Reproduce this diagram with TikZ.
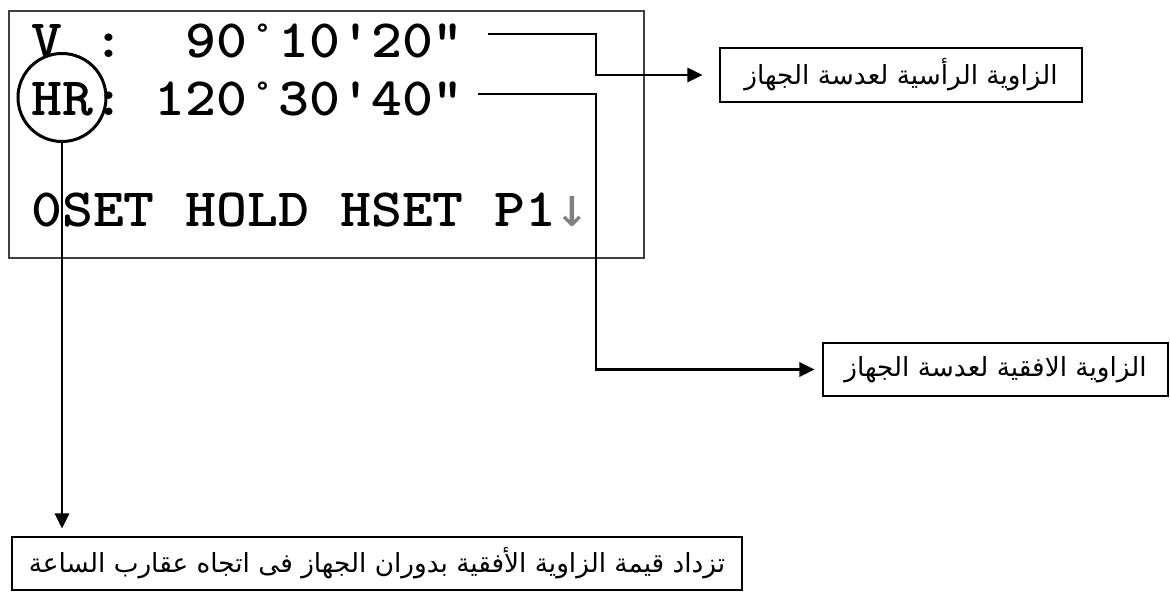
\documentclass[tikz,border=0pt]{standalone}
\usepackage{fontspec}
\newfontfamily\arabicfont[Script=Arabic]{DejaVu Sans}
\newfontfamily\arrowfont{DejaVu Sans Mono}
\newfontfamily\lcdfont{lmmonolt10-bold.otf}[FakeStretch=1.09]
\TeXXeTstate=1
\usetikzlibrary{arrows.meta}
\begin{document}
\begin{tikzpicture}[x=1pt,y=-1pt,
  disp/.style={draw=black!75, line width=2pt, inner sep=0pt, anchor=north west},
  lcd/.style={font=\lcdfont\fontsize{54}{54}\selectfont, inner sep=0pt, anchor=base west},
  ring/.style={draw, circle, line width=3pt, minimum size=88pt, inner sep=0pt},
  conn/.style={line width=2.8pt, -{Triangle[length=15pt,width=14pt]}},
  label/.style={draw, line width=1.1pt, inner sep=0pt, font=\fontsize{26.3}{30}\selectfont\arabicfont}
]
\useasboundingbox (0,0) rectangle (1170,592);
\node[disp, minimum width=635pt, minimum height=247pt] (display) at (8,10) {};
\node[lcd] (l1) at (31,57) {V\phantom{0}:\phantom{00}90°10'20"};
\node[lcd] (l2) at (31,115) {HR:\phantom{0}120°30'40"};
\node[lcd] (l3) at (31,226) {0SET\phantom{0}HOLD\phantom{0}HSET\phantom{0}P1\makebox[30.9pt][c]{\fontsize{56}{56}\arrowfont\color{black!50}↓}};
\node[ring] (hr) at (62,97.5) {};
\node[label, minimum width=362pt, minimum height=54pt] (b1) at (901,75) {\beginR الزاوية الرأسية لعدسة الجهاز\endR};
\node[label, minimum width=345pt, minimum height=53pt] (b2) at (995.5,369.5) {\beginR الزاوية الافقية لعدسة الجهاز\endR};
\node[label, minimum width=730pt, minimum height=53pt] (b3) at (377,563.5) {\beginR تزداد قيمة الزاوية الأفقية بدوران الجهاز فى اتجاه عقارب الساعة\endR};
\coordinate (s1) at (488,34);
\coordinate (k1) at (596,55);
\coordinate (s2) at (478,94);
\coordinate (k2) at (596,200);
\draw[conn, shorten >=17pt] (s1) -| (k1) |- (b1.west);
\draw[conn, shorten >=8pt] (s2) -| (k2) |- (b2.west);
\draw[conn, shorten >=8pt] (hr.south) -- (hr.south |- b3.north);
\end{tikzpicture}
\end{document}
